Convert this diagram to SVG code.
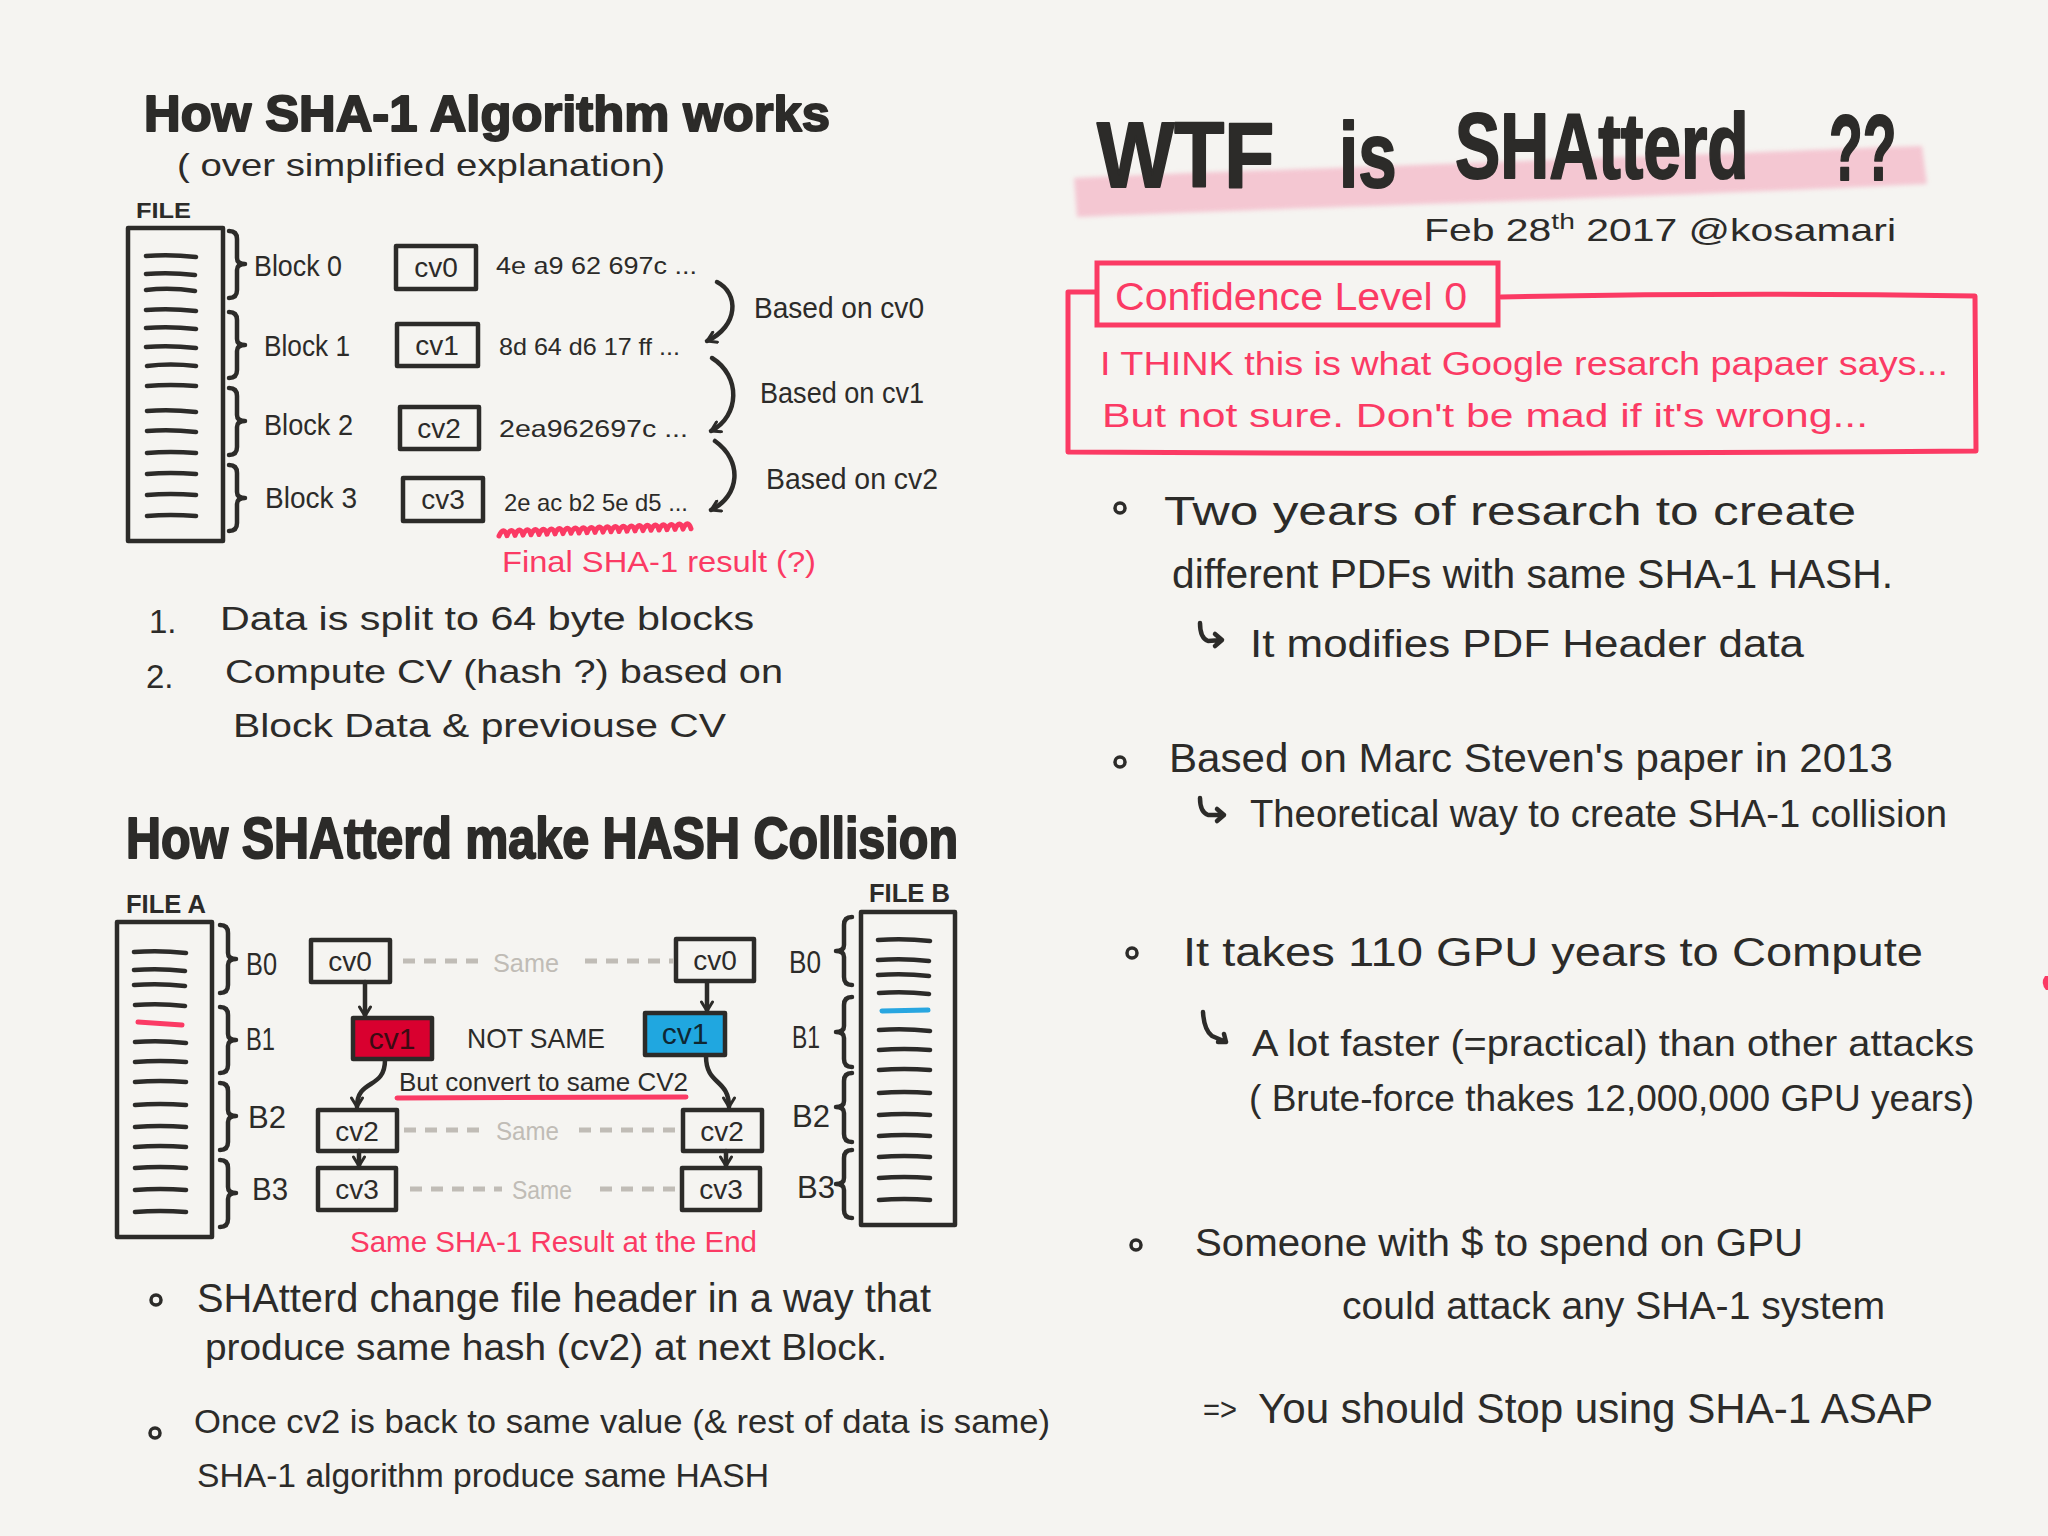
<svg xmlns="http://www.w3.org/2000/svg" width="2048" height="1536" viewBox="0 0 2048 1536">
<defs>
<style>
.t{font-family:"Liberation Sans",Arial,sans-serif;fill:#2c2b29}
.b{font-weight:bold}
.h{font-weight:bold;stroke:#2c2b29;stroke-width:2;stroke-linejoin:round}
.r{fill:#fb3a64}
.g{fill:#c0bcb6}
.box{fill:none;stroke:#2c2b29;stroke-width:4.5;stroke-linejoin:round}
.ln{fill:none;stroke:#2c2b29;stroke-width:4.5;stroke-linecap:round;stroke-linejoin:round}
.rl{fill:none;stroke:#fb3a64;stroke-width:5;stroke-linecap:round;stroke-linejoin:round}
.same{stroke:#c0bcb6;stroke-width:5;stroke-dasharray:12 9}
.dot{fill:none;stroke:#2c2b29;stroke-width:3.5}
.c{text-anchor:middle}
</style>
<marker id="chev" viewBox="0 0 14 14" refX="11" refY="7" markerWidth="14" markerHeight="14" markerUnits="userSpaceOnUse" orient="auto">
<path d="M2,1.5 L11,7 L2,12.5" fill="none" stroke="#2c2b29" stroke-width="3" stroke-linecap="round" stroke-linejoin="round"/>
</marker>
<filter id="soft" x="-5%" y="-30%" width="110%" height="160%"><feGaussianBlur stdDeviation="2"/></filter>
</defs>
<rect width="2048" height="1536" fill="#f5f4f1"/>

<!-- ============ LEFT: How SHA-1 works ============ -->
<g id="sha1-title">
<text class="t h" x="144" y="131" font-size="50" textLength="686" lengthAdjust="spacingAndGlyphs">How SHA-1 Algorithm works</text>
<text class="t" x="177" y="176" font-size="32" textLength="488" lengthAdjust="spacingAndGlyphs">( over simplified explanation)</text>
</g>

<g id="file1">
<text class="t b" x="136" y="218" font-size="22" textLength="55" lengthAdjust="spacingAndGlyphs">FILE</text>
<rect class="box" x="128" y="228" width="95" height="313" stroke-width="5"/>
<path class="ln" d="M146,256 Q170,254 196,257 M146,274 Q170,272 195,275 M146,290 Q170,287 195,291 M146,310 Q170,308 196,311 M146,328 Q170,326 196,329 M146,347 Q170,345 196,348 M147,366 Q170,363 196,366 M147,386 Q170,384 196,386 M147,411 Q170,409 196,412 M147,431 Q170,429 196,432 M147,453 Q170,451 196,453 M147,474 Q170,472 196,474 M147,495 Q170,493 196,495 M147,516 Q170,514 196,516"/>
</g>

<g id="block0">
<path class="ln" stroke-width="3.5" d="M229,231 Q237,231 237,239 L237,258 Q237,264 245,264 Q237,264 237,270 L237,290 Q237,298 229,298"/>
<text class="t" x="254" y="276" font-size="30" textLength="88" lengthAdjust="spacingAndGlyphs">Block 0</text>
</g>
<g id="block1">
<path class="ln" stroke-width="3.5" d="M229,312 Q237,312 237,320 L237,339 Q237,345 245,345 Q237,345 237,351 L237,370 Q237,378 229,378"/>
<text class="t" x="264" y="356" font-size="30" textLength="86" lengthAdjust="spacingAndGlyphs">Block 1</text>
</g>
<g id="block2">
<path class="ln" stroke-width="3.5" d="M229,388 Q237,388 237,396 L237,415 Q237,421 245,421 Q237,421 237,427 L237,447 Q237,455 229,455"/>
<text class="t" x="264" y="435" font-size="30" textLength="89" lengthAdjust="spacingAndGlyphs">Block 2</text>
</g>
<g id="block3">
<path class="ln" stroke-width="3.5" d="M229,465 Q237,465 237,473 L237,492 Q237,498 245,498 Q237,498 237,504 L237,523 Q237,531 229,531"/>
<text class="t" x="265" y="508" font-size="30" textLength="92" lengthAdjust="spacingAndGlyphs">Block 3</text>
</g>

<g id="s1-cv0">
<rect class="box" x="396" y="246" width="80" height="43"/>
<text class="t c" x="436" y="277" font-size="28">cv0</text>
<text class="t" x="496" y="274" font-size="24" textLength="201" lengthAdjust="spacingAndGlyphs">4e a9 62 697c ...</text>
</g>
<g id="s1-cv1">
<rect class="box" x="397" y="324" width="81" height="42"/>
<text class="t c" x="437" y="355" font-size="28">cv1</text>
<text class="t" x="499" y="355" font-size="24" textLength="181" lengthAdjust="spacingAndGlyphs">8d 64 d6 17 ff ...</text>
</g>
<g id="s1-cv2">
<rect class="box" x="400" y="407" width="79" height="42"/>
<text class="t c" x="439" y="438" font-size="28">cv2</text>
<text class="t" x="499" y="437" font-size="24" textLength="189" lengthAdjust="spacingAndGlyphs">2ea962697c ...</text>
</g>
<g id="s1-cv3">
<rect class="box" x="403" y="478" width="80" height="43"/>
<text class="t c" x="443" y="509" font-size="28">cv3</text>
<text class="t" x="504" y="511" font-size="24" textLength="184" lengthAdjust="spacingAndGlyphs">2e ac b2 5e d5 ...</text>
</g>

<g id="s1-notes">
<text class="t" x="754" y="318" font-size="29" textLength="170" lengthAdjust="spacingAndGlyphs">Based on cv0</text>
<text class="t" x="760" y="403" font-size="29" textLength="164" lengthAdjust="spacingAndGlyphs">Based on cv1</text>
<text class="t" x="766" y="489" font-size="29" textLength="172" lengthAdjust="spacingAndGlyphs">Based on cv2</text>
<path class="rl" stroke-width="3" d="M499,536 c3,-7 6,-7 8,-0.3 c3,-7 6,-7 8,-0.3 c3,-7 6,-7 8,-0.3 c3,-7 6,-7 8,-0.3 c3,-7 6,-7 8,-0.3 c3,-7 6,-7 8,-0.3 c3,-7 6,-7 8,-0.3 c3,-7 6,-7 8,-0.3 c3,-7 6,-7 8,-0.3 c3,-7 6,-7 8,-0.3 c3,-7 6,-7 8,-0.3 c3,-7 6,-7 8,-0.3 c3,-7 6,-7 8,-0.3 c3,-7 6,-7 8,-0.3 c3,-7 6,-7 8,-0.3 c3,-7 6,-7 8,-0.3 c3,-7 6,-7 8,-0.3 c3,-7 6,-7 8,-0.3 c3,-7 6,-7 8,-0.3 c3,-7 6,-7 8,-0.3 c3,-7 6,-7 8,-0.3 c3,-7 6,-7 8,-0.3 c3,-7 6,-7 8,-0.3 c3,-7 6,-7 8,-0.3"/>
<text class="t r" x="502" y="572" font-size="30" textLength="314" lengthAdjust="spacingAndGlyphs">Final SHA-1 result (?)</text>
</g>

<g id="s1-list">
<text class="t" x="149" y="633" font-size="33">1.</text>
<text class="t" x="220" y="630" font-size="33" textLength="534" lengthAdjust="spacingAndGlyphs">Data is split to 64 byte blocks</text>
<text class="t" x="146" y="688" font-size="33">2.</text>
<text class="t" x="225" y="683" font-size="33" textLength="558" lengthAdjust="spacingAndGlyphs">Compute CV (hash ?) based on</text>
<text class="t" x="233" y="737" font-size="33" textLength="493" lengthAdjust="spacingAndGlyphs">Block Data &amp; previouse CV</text>
</g>

<!-- ============ LEFT: How SHAtterd ============ -->
<g id="shattered-title">
<text class="t h" x="126" y="858" font-size="58" textLength="832" lengthAdjust="spacingAndGlyphs">How SHAtterd make HASH Collision</text>
</g>

<g id="fileA">
<text class="t b" x="126" y="913" font-size="25" textLength="80" lengthAdjust="spacingAndGlyphs">FILE A</text>
<rect class="box" x="117" y="922" width="95" height="315" stroke-width="5"/>
<path class="ln" d="M134,952 Q160,950 186,953 M134,970 Q160,968 185,971 M134,985 Q160,983 185,986 M135,1005 Q160,1003 185,1006 M135,1042 Q160,1040 186,1043 M135,1062 Q160,1060 186,1062 M135,1082 Q160,1080 186,1082 M135,1105 Q160,1103 186,1105 M135,1127 Q160,1125 186,1127 M135,1147 Q160,1145 186,1147 M135,1168 Q160,1166 186,1168 M135,1190 Q160,1188 186,1190 M135,1212 Q160,1210 186,1212"/>
<path class="rl" d="M138,1022 L182,1025"/>
<path class="ln" stroke-width="3.5" d="M220,925 Q228,925 228,933 L228,953 Q228,959 236,959 Q228,959 228,965 L228,985 Q228,993 220,993"/>
<text class="t" x="246" y="975" font-size="32" textLength="31" lengthAdjust="spacingAndGlyphs">B0</text>
<path class="ln" stroke-width="3.5" d="M220,1007 Q228,1007 228,1015 L228,1034 Q228,1040 236,1040 Q228,1040 228,1046 L228,1065 Q228,1073 220,1073"/>
<text class="t" x="246" y="1050" font-size="32" textLength="29" lengthAdjust="spacingAndGlyphs">B1</text>
<path class="ln" stroke-width="3.5" d="M220,1083 Q228,1083 228,1091 L228,1110 Q228,1116 236,1116 Q228,1116 228,1122 L228,1142 Q228,1150 220,1150"/>
<text class="t" x="248" y="1128" font-size="32" textLength="38" lengthAdjust="spacingAndGlyphs">B2</text>
<path class="ln" stroke-width="3.5" d="M220,1160 Q228,1160 228,1168 L228,1187 Q228,1193 236,1193 Q228,1193 228,1199 L228,1219 Q228,1227 220,1227"/>
<text class="t" x="252" y="1200" font-size="32" textLength="36" lengthAdjust="spacingAndGlyphs">B3</text>
</g>

<g id="fileB">
<text class="t b" x="869" y="902" font-size="25" textLength="81" lengthAdjust="spacingAndGlyphs">FILE B</text>
<rect class="box" x="861" y="912" width="94" height="313" stroke-width="5"/>
<path class="ln" d="M878,940 Q904,938 930,941 M878,960 Q904,958 929,961 M878,975 Q904,973 929,976 M879,993 Q904,991 929,994 M879,1030 Q904,1028 930,1031 M879,1050 Q904,1048 930,1050 M879,1070 Q904,1068 930,1070 M879,1093 Q904,1091 930,1093 M879,1115 Q904,1113 930,1115 M879,1136 Q904,1134 930,1136 M879,1157 Q904,1155 930,1157 M879,1178 Q904,1176 930,1178 M879,1200 Q904,1198 930,1200"/>
<path d="M882,1011 L928,1010" fill="none" stroke="#28a6e0" stroke-width="5" stroke-linecap="round"/>
<path class="ln" stroke-width="3.5" d="M852,917 Q844,917 844,925 L844,945 Q844,951 836,951 Q844,951 844,957 L844,977 Q844,985 852,985"/>
<text class="t" x="789" y="973" font-size="32" textLength="32" lengthAdjust="spacingAndGlyphs">B0</text>
<path class="ln" stroke-width="3.5" d="M852,997 Q844,997 844,1005 L844,1026 Q844,1032 836,1032 Q844,1032 844,1038 L844,1059 Q844,1067 852,1067"/>
<text class="t" x="792" y="1048" font-size="32" textLength="28" lengthAdjust="spacingAndGlyphs">B1</text>
<path class="ln" stroke-width="3.5" d="M852,1073 Q844,1073 844,1081 L844,1101 Q844,1107 836,1107 Q844,1107 844,1113 L844,1134 Q844,1142 852,1142"/>
<text class="t" x="792" y="1127" font-size="32" textLength="38" lengthAdjust="spacingAndGlyphs">B2</text>
<path class="ln" stroke-width="3.5" d="M852,1150 Q844,1150 844,1158 L844,1178 Q844,1184 836,1184 Q844,1184 844,1190 L844,1210 Q844,1218 852,1218"/>
<text class="t" x="797" y="1198" font-size="32" textLength="38" lengthAdjust="spacingAndGlyphs">B3</text>
</g>

<g id="A-cv0"><rect class="box" x="311" y="940" width="79" height="42"/><text class="t c" x="350" y="971" font-size="28">cv0</text></g>
<g id="A-cv1"><rect class="box" x="353" y="1018" width="79" height="41" style="fill:#d9002f"/><text class="c" x="392" y="1049" font-size="30" font-family="Liberation Sans, Arial, sans-serif" fill="#3b0a12">cv1</text></g>
<g id="A-cv2"><rect class="box" x="318" y="1110" width="79" height="41"/><text class="t c" x="357" y="1141" font-size="28">cv2</text></g>
<g id="A-cv3"><rect class="box" x="318" y="1168" width="78" height="42"/><text class="t c" x="357" y="1199" font-size="28">cv3</text></g>
<g id="B-cv0"><rect class="box" x="676" y="939" width="78" height="42"/><text class="t c" x="715" y="970" font-size="28">cv0</text></g>
<g id="B-cv1"><rect class="box" x="645" y="1013" width="80" height="42" style="fill:#20a7e0"/><text class="c" x="685" y="1044" font-size="30" font-family="Liberation Sans, Arial, sans-serif" fill="#0f2733">cv1</text></g>
<g id="B-cv2"><rect class="box" x="683" y="1110" width="79" height="41"/><text class="t c" x="722" y="1141" font-size="28">cv2</text></g>
<g id="B-cv3"><rect class="box" x="682" y="1168" width="78" height="42"/><text class="t c" x="721" y="1199" font-size="28">cv3</text></g>

<g id="s2-labels">
<text class="t" x="467" y="1048" font-size="28" textLength="138" lengthAdjust="spacingAndGlyphs">NOT SAME</text>
<text class="t" x="399" y="1091" font-size="25" textLength="289" lengthAdjust="spacingAndGlyphs">But convert to same CV2</text>
<path class="rl" stroke-width="4" d="M397,1098 L686,1097"/>
<text class="t r" x="350" y="1252" font-size="30" textLength="407" lengthAdjust="spacingAndGlyphs">Same SHA-1 Result at the End</text>
</g>

<g id="connectors">
<path class="ln" stroke-width="3.5" d="M717,282 C739,293 739,326 707,341" marker-end="url(#chev)"/>
<path class="ln" stroke-width="3.5" d="M712,358 C741,376 740,416 711,431" marker-end="url(#chev)"/>
<path class="ln" stroke-width="3.5" d="M715,441 C743,461 740,496 711,510" marker-end="url(#chev)"/>
<path class="ln" stroke-width="3.5" d="M365,982 L365,1016" marker-end="url(#chev)"/>
<path class="ln" stroke-width="3.5" d="M707,982 L707,1011" marker-end="url(#chev)"/>
<path class="ln" stroke-width="3.5" d="M385,1060 C385,1090 357,1078 357,1107" marker-end="url(#chev)"/>
<path class="ln" stroke-width="3.5" d="M706,1056 C706,1086 729,1078 729,1107" marker-end="url(#chev)"/>
<path class="ln" stroke-width="3.5" d="M359,1151 L359,1166" marker-end="url(#chev)"/>
<path class="ln" stroke-width="3.5" d="M726,1151 L726,1166" marker-end="url(#chev)"/>
<line class="same" x1="403" y1="961" x2="479" y2="961"/>
<text class="t g" x="493" y="972" font-size="26" textLength="66" lengthAdjust="spacingAndGlyphs">Same</text>
<line class="same" x1="585" y1="961" x2="674" y2="961"/>
<line class="same" x1="404" y1="1130" x2="479" y2="1130"/>
<text class="t g" x="496" y="1140" font-size="26" textLength="63" lengthAdjust="spacingAndGlyphs">Same</text>
<line class="same" x1="579" y1="1130" x2="681" y2="1130"/>
<line class="same" x1="410" y1="1189" x2="502" y2="1189"/>
<text class="t g" x="512" y="1199" font-size="26" textLength="60" lengthAdjust="spacingAndGlyphs">Same</text>
<line class="same" x1="600" y1="1189" x2="680" y2="1189"/>
</g>

<g id="s2-bullets">
<circle class="dot" cx="156" cy="1300" r="5"/>
<text class="t" x="197" y="1312" font-size="40" textLength="734" lengthAdjust="spacingAndGlyphs">SHAtterd change file header in a way that</text>
<text class="t" x="205" y="1360" font-size="36" textLength="682" lengthAdjust="spacingAndGlyphs">produce same hash (cv2) at next Block.</text>
<circle class="dot" cx="155" cy="1433" r="5"/>
<text class="t" x="194" y="1433" font-size="33" textLength="856" lengthAdjust="spacingAndGlyphs">Once cv2 is back to same value (&amp; rest of data is same)</text>
<text class="t" x="197" y="1487" font-size="33" textLength="572" lengthAdjust="spacingAndGlyphs">SHA-1 algorithm produce same HASH</text>
</g>

<!-- ============ RIGHT ============ -->
<g id="main-title">
<path d="M1074,178 C1200,172 1400,166 1600,158 C1750,153 1850,148 1922,146 L1927,184 C1800,190 1600,198 1400,205 C1250,210 1150,214 1077,217 Z" fill="#f4bccb" opacity="0.8" filter="url(#soft)"/>
<text class="t h" font-size="92" stroke-width="3" transform="translate(1097,187) scale(0.89,1)">WTF</text>
<text class="t h" font-size="92" stroke-width="3" transform="translate(1339,187) scale(0.75,1)">is</text>
<text class="t h" font-size="92" stroke-width="3" transform="translate(1455,178) scale(0.737,1)">SHAtterd</text>
<text class="t h" font-size="92" stroke-width="3" transform="translate(1829,180) scale(0.6,1)">??</text>
<text class="t" x="1424" y="241" font-size="32" textLength="472" lengthAdjust="spacingAndGlyphs">Feb 28<tspan font-size="22" baseline-shift="super">th</tspan> 2017 @kosamari</text>
</g>

<g id="confidence">
<path class="rl" d="M1096,292 L1068,292 L1068,452 Q1500,455 1976,451 L1975,296 Q1740,292 1501,297"/>
<rect x="1097" y="263" width="401" height="62" fill="none" stroke="#fb3a64" stroke-width="5"/>
<text class="t r" x="1115" y="310" font-size="38" textLength="352" lengthAdjust="spacingAndGlyphs">Confidence Level 0</text>
<text class="t r" x="1100" y="375" font-size="33" textLength="848" lengthAdjust="spacingAndGlyphs">I THINK this is what Google resarch papaer says...</text>
<text class="t r" x="1102" y="427" font-size="33" textLength="766" lengthAdjust="spacingAndGlyphs">But not sure. Don't be mad if it's wrong...</text>
</g>

<g id="point1">
<circle class="dot" cx="1120" cy="508" r="5"/>
<text class="t" x="1164" y="525" font-size="40" textLength="692" lengthAdjust="spacingAndGlyphs">Two years of resarch to create</text>
<text class="t" x="1172" y="588" font-size="40" textLength="721" lengthAdjust="spacingAndGlyphs">different PDFs with same SHA-1 HASH.</text>
<path class="ln" stroke-width="3" d="M1200,623 Q1200,638 1208,641 L1222,640 M1215,634 L1222,640 L1215,646"/>
<text class="t" x="1250" y="657" font-size="38" textLength="554" lengthAdjust="spacingAndGlyphs">It modifies PDF Header data</text>
</g>

<g id="point2">
<circle class="dot" cx="1120" cy="762" r="5"/>
<text class="t" x="1169" y="772" font-size="40" textLength="724" lengthAdjust="spacingAndGlyphs">Based on Marc Steven's paper in 2013</text>
<path class="ln" stroke-width="3" d="M1200,798 Q1200,812 1208,815 L1224,815 M1217,809 L1224,815 L1217,821"/>
<text class="t" x="1250" y="827" font-size="38" textLength="697" lengthAdjust="spacingAndGlyphs">Theoretical way to create SHA-1 collision</text>
</g>

<g id="point3">
<circle class="dot" cx="1132" cy="953" r="5"/>
<text class="t" x="1183" y="966" font-size="40" textLength="740" lengthAdjust="spacingAndGlyphs">It takes 110 GPU years to Compute</text>
<path class="ln" stroke-width="3" d="M1203,1012 Q1204,1030 1212,1036 L1226,1042 M1218,1042 L1226,1042 L1224,1034"/>
<text class="t" x="1252" y="1056" font-size="36" textLength="722" lengthAdjust="spacingAndGlyphs">A lot faster (=practical) than other attacks</text>
<text class="t" x="1249" y="1111" font-size="36" textLength="725" lengthAdjust="spacingAndGlyphs">( Brute-force thakes 12,000,000 GPU years)</text>
</g>

<g id="point4">
<circle class="dot" cx="1136" cy="1245" r="5"/>
<text class="t" x="1195" y="1256" font-size="38" textLength="608" lengthAdjust="spacingAndGlyphs">Someone with $ to spend on GPU</text>
<text class="t" x="1342" y="1319" font-size="38" textLength="543" lengthAdjust="spacingAndGlyphs">could attack any SHA-1 system</text>
</g>

<g id="conclusion">
<text class="t" x="1203" y="1420" font-size="32" textLength="34" lengthAdjust="spacingAndGlyphs">=&gt;</text>
<text class="t" x="1258" y="1423" font-size="42" textLength="675" lengthAdjust="spacingAndGlyphs">You should Stop using SHA-1 ASAP</text>
</g>

<path d="M2045,976 Q2040,983 2046,990 L2048,990 L2048,976 Z" fill="#fb3a64"/>
</svg>
